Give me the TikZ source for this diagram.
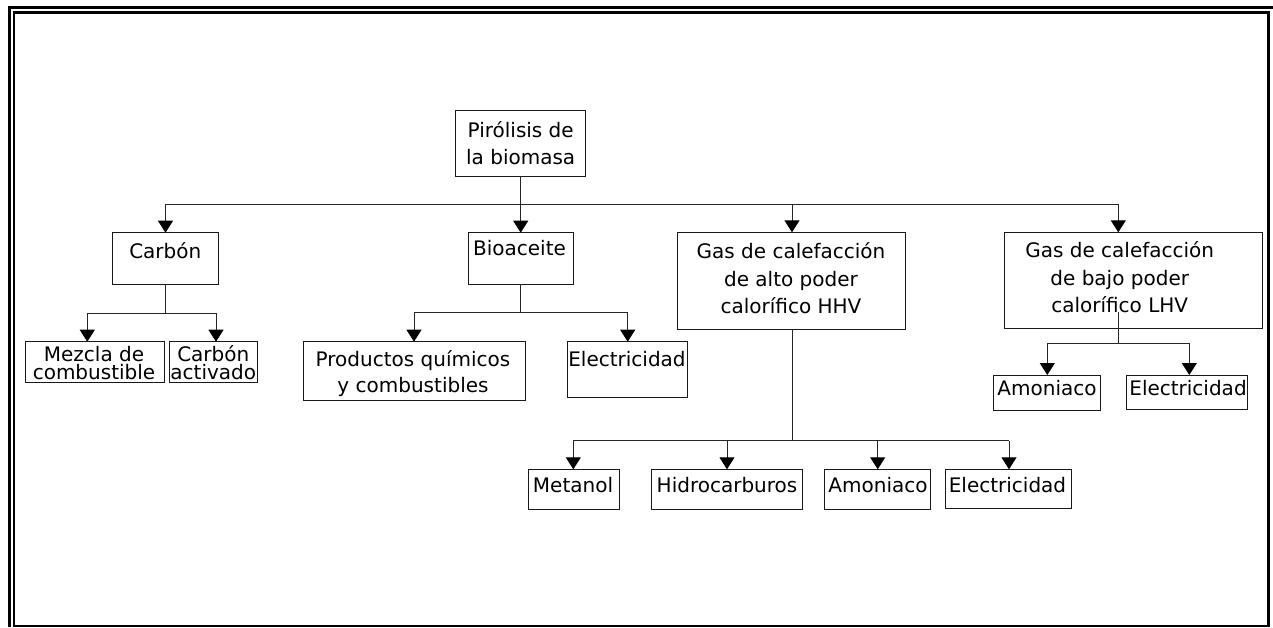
\documentclass[tikz,border=0pt]{standalone}
\usepackage{fontspec}
\setmainfont{DejaVu Sans}
\usetikzlibrary{arrows.meta,calc}
% invisible strut fixing the height of a label's first line
\newcommand\lnstrut{\rule{0pt}{17pt}}
% \bx{name}{x1}{y1}{x2}{y2}: an outlined box between two corners
\newcommand\bx[5]{\node[box, minimum width={(#4-#2)*1pt}, minimum height={(#5-#3)*1pt}] (#1) at ({(#2+#4)/2},{(#3+#5)/2}) {};}
% \tx{name}{x}{first baseline}{line spacing}{text}
\newcommand\tx[5]{\node[lbl, font=\fontsize{20pt}{#4pt}\selectfont] (#1) at (#2,{#3-17}) {\lnstrut#5};}
\begin{document}
\begin{tikzpicture}[x=1pt,y=-1pt,
  box/.style={draw=black!90, line width=1pt, rectangle, inner sep=0pt, outer sep=0pt},
  lbl/.style={anchor=north, inner sep=0pt, align=center},
  ln/.style={draw=black!85, line width=1pt},
  arr/.style={ln, -{Triangle[width=15pt,length=12pt,color=black]}},
]
\useasboundingbox (0,0) rectangle (1273,627);

% page frame
\draw[line width=3pt] (9.5,627) -- (9.5,7.5) -- (1273,7.5);
\draw[line width=2.7pt] (14,627) -- (14,12.5) -- (1270,12.5);
\draw[line width=3.5pt] (1268.5,11.2) -- (1268.5,626.5);
\draw[line width=2pt] (12.7,625.6) -- (1270,625.6);

% boxes
\bx{root}{455.7}{110.7}{585.7}{176}
\bx{carb}{112.3}{232.7}{218.3}{284}
\bx{bio}{468.3}{232.7}{573.3}{284}
\bx{hhv}{677.3}{232.3}{905}{329.3}
\bx{lhv}{1004.3}{232.3}{1262}{328.3}
\bx{mez}{25}{341.7}{164.3}{382.3}
\bx{cact}{169}{341.7}{257.7}{382.3}
\bx{prod}{303.3}{341.7}{525.7}{400}
\bx{elecA}{567.3}{341.7}{687}{397}
\bx{met}{528.3}{469.3}{619}{509}
\bx{hid}{651.7}{469.3}{802.3}{509}
\bx{amoA}{824.3}{469.3}{930}{509}
\bx{elecB}{945.7}{469.3}{1071.7}{508.3}
\bx{amoB}{993.3}{375}{1100}{410}
\bx{elecC}{1126.7}{375}{1247.3}{409.3}

% labels
\tx{root-t}{520.7}{137.3}{26.7}{Pirólisis de\\la biomasa}
\tx{carb-t}{165.3}{258.3}{26}{Carbón}
\tx{bio-t}{519.5}{255}{26}{Bioaceite}
\tx{hhv-t}{791}{258.3}{27.5}{Gas de calefacción\\de alto poder\\calorífico HHV}
\tx{lhv-t}{1119.7}{257.7}{27.5}{Gas de calefacción\\de bajo poder\\calorífico LHV}
\tx{mez-t}{94}{361.7}{17.7}{Mezcla de\\combustible}
\tx{cact-t}{213.3}{361.7}{17.7}{Carbón\\activado}
\tx{prod-t}{413}{366.7}{26}{Productos químicos\\y combustibles}
\tx{elecA-t}{627}{366.7}{26}{Electricidad}
\tx{met-t}{573}{492.7}{26}{Metanol}
\tx{hid-t}{727}{492.7}{26}{Hidrocarburos}
\tx{amoA-t}{878}{492.7}{26}{Amoniaco}
\tx{elecB-t}{1007.5}{492.7}{26}{Electricidad}
\tx{amoB-t}{1047}{395}{26}{Amoniaco}
\tx{elecC-t}{1188}{395}{26}{Electricidad}

% first level: pyrolysis products
\coordinate (j0) at (520.7,204);
\coordinate (j0a) at (165.5,204);
\coordinate (j0c) at (792,204);
\coordinate (j0d) at (1118.3,204);
\draw[ln] (root.south) -- (j0);
\draw[ln] (j0a) -- (j0d);
\draw[arr] (j0a) -- (j0a |- carb.north);
\draw[arr] (j0) -- (j0 |- bio.north);
\draw[arr] (j0c) -- (j0c |- hhv.north);
\draw[arr] (j0d) -- (j0d |- lhv.north);

% char
\coordinate (j1) at (165.3,313);
\coordinate (j1a) at (87.3,313);
\coordinate (j1b) at (216,313);
\draw[ln] (carb.south) -- (j1);
\draw[ln] (j1a) -- (j1b);
\draw[arr] (j1a) -- (j1a |- mez.north);
\draw[arr] (j1b) -- (j1b |- cact.north);

% bio-oil
\coordinate (j2) at (520.8,312.7);
\coordinate (j2a) at (414,312.7);
\coordinate (j2b) at (627.7,312.7);
\draw[ln] (bio.south) -- (j2);
\draw[ln] (j2a) -- (j2b);
\draw[arr] (j2a) -- (j2a |- prod.north);
\draw[arr] (j2b) -- (j2b |- elecA.north);

% high heating value gas
\coordinate (j3) at (792,440.7);
\coordinate (j3a) at (573.3,440.7);
\coordinate (j3b) at (727,440.7);
\coordinate (j3c) at (877.7,440.7);
\coordinate (j3d) at (1009,440.7);
\draw[ln] (j3 |- hhv.south) -- (j3);
\draw[ln] (j3a) -- (j3d);
\draw[arr] (j3a) -- (j3a |- met.north);
\draw[arr] (j3b) -- (j3b |- hid.north);
\draw[arr] (j3c) -- (j3c |- amoA.north);
\draw[arr] (j3d) -- (j3d |- elecB.north);

% low heating value gas
\coordinate (j4) at (1118.3,343.3);
\coordinate (j4a) at (1047.3,343.3);
\coordinate (j4b) at (1189.3,343.3);
\draw[ln] ([yshift=16.6pt]j4 |- lhv.south) -- (j4);
\draw[ln] (j4a) -- (j4b);
\draw[arr] (j4a) -- (j4a |- amoB.north);
\draw[arr] (j4b) -- (j4b |- elecC.north);
\end{tikzpicture}
\end{document}
